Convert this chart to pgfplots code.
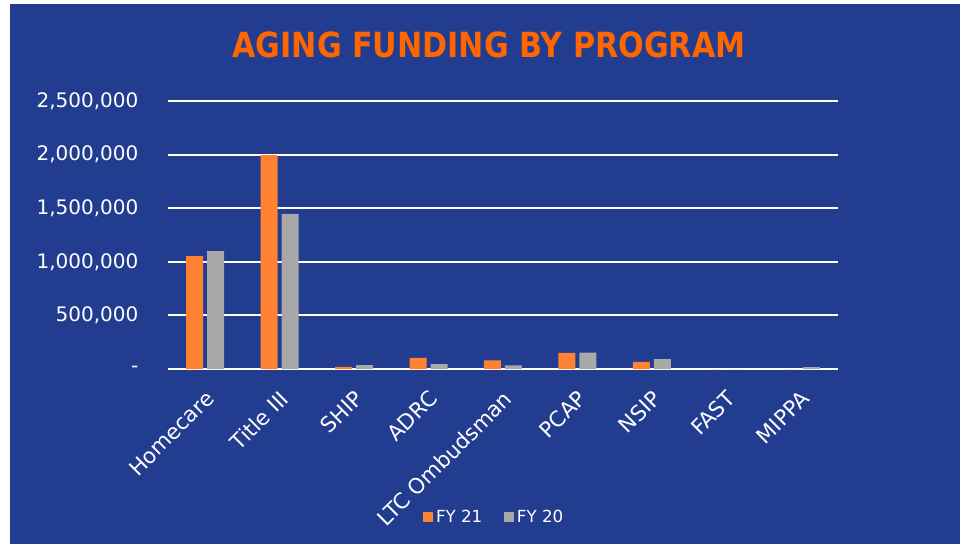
\documentclass[border=0pt]{standalone}
\usepackage{fontspec}
\setmainfont{DejaVu Sans}
\usepackage{pgfplots}
\pgfplotsset{compat=1.18}
\definecolor{bg}{RGB}{34,60,143}
\definecolor{fyorange}{RGB}{255,130,50}
\definecolor{fygray}{RGB}{168,168,168}
\definecolor{titleorange}{RGB}{255,102,0}
\begin{document}
\begin{tikzpicture}[x=0.75pt,y=0.75pt]
\fill[white] (0,0) rectangle (960,544);
\fill[bg] (10,0) rectangle (960,540);
\node[text=titleorange, font=\bfseries\fontsize{26}{26}\selectfont, inner sep=0pt] at (489,499.5) {\scalebox{0.87}[1]{AGING FUNDING BY PROGRAM}};
\begin{axis}[
  at={(126pt,131.25pt)}, anchor=south west,
  scale only axis, width=502.5pt, height=201pt,
  xmin=-0.5, xmax=8.5, ymin=0, ymax=2500000,
  ybar=3pt, bar width=12.75pt,
  axis line style={draw=none},
  major tick length=0pt,
  ymajorgrids, grid style={white, line width=1.4pt},
  xtick={0,...,8},
  xticklabels={Homecare,Title III,SHIP,ADRC,LTC Ombudsman,PCAP,NSIP,FAST,MIPPA},
  ytick={0,500000,1000000,1500000,2000000,2500000},
  yticklabels={-,{500,000},{1,000,000},{1,500,000},{2,000,000},{2,500,000}},
  /pgf/number format/assume math mode=true,
  scaled y ticks=false,
  yticklabel style={text=white, font=\fontsize{15}{15}\selectfont, anchor=east, inner sep=0pt, xshift=-22pt},
  xticklabel style={text=white, font=\fontsize{16}{16}\selectfont, rotate=45, anchor=north east, inner sep=0pt, xshift=-11pt, yshift=-10pt},
  legend style={at={(0.487,-0.552)}, anchor=center, draw=none, fill=none, text=white, font=\fontsize{12.5}{12.5}\selectfont, legend columns=2, /tikz/every even column/.append style={column sep=14pt}},
  legend image code/.code={\fill[#1] (0pt,-3.5pt) rectangle (8pt,3.5pt);},
]
\addplot[fill=fyorange, draw=none] coordinates {(0,1054000) (1,1995000) (2,20000) (3,103000) (4,80000) (5,150000) (6,67000) (7,0) (8,0)};
\addplot[fill=fygray, draw=none] coordinates {(0,1100000) (1,1446000) (2,37000) (3,45000) (4,35000) (5,152000) (6,92000) (7,0) (8,18000)};
\legend{FY 21, FY 20}
\end{axis}
\end{tikzpicture}
\end{document}
